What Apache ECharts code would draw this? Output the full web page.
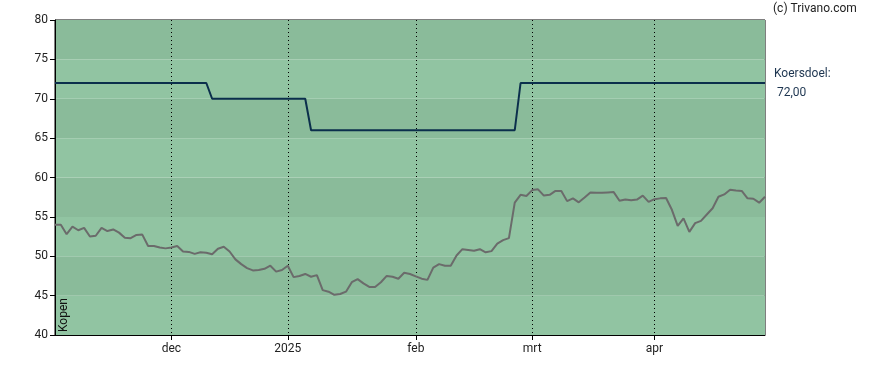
<!DOCTYPE html>
<html>
<head>
<meta charset="utf-8">
<script src="https://cdn.jsdelivr.net/npm/echarts@6/dist/echarts.min.js"></script>
<style>html,body{margin:0;padding:0;background:#fff;}#c{width:888px;height:370px;}</style>
</head>
<body>
<div id="c"></div>
<script>
var dates = [
'2024-11-04','2024-11-05','2024-11-06','2024-11-07','2024-11-08','2024-11-11','2024-11-12','2024-11-13','2024-11-14','2024-11-15',
'2024-11-18','2024-11-19','2024-11-20','2024-11-21','2024-11-22','2024-11-25','2024-11-26','2024-11-27','2024-11-28','2024-11-29',
'2024-12-02','2024-12-03','2024-12-04','2024-12-05','2024-12-06','2024-12-09','2024-12-10','2024-12-11','2024-12-12','2024-12-13',
'2024-12-16','2024-12-17','2024-12-18','2024-12-19','2024-12-20','2024-12-23','2024-12-24','2024-12-27','2024-12-30','2024-12-31',
'2025-01-02','2025-01-03','2025-01-06','2025-01-07','2025-01-08','2025-01-09','2025-01-10','2025-01-13','2025-01-14','2025-01-15',
'2025-01-16','2025-01-17','2025-01-20','2025-01-21','2025-01-22','2025-01-23','2025-01-24','2025-01-27','2025-01-28','2025-01-29',
'2025-01-30','2025-01-31',
'2025-02-03','2025-02-04','2025-02-05','2025-02-06','2025-02-07','2025-02-10','2025-02-11','2025-02-12','2025-02-13','2025-02-14',
'2025-02-17','2025-02-18','2025-02-19','2025-02-20','2025-02-21','2025-02-24','2025-02-25','2025-02-26','2025-02-27','2025-02-28',
'2025-03-03','2025-03-04','2025-03-05','2025-03-06','2025-03-07','2025-03-10','2025-03-11','2025-03-12','2025-03-13','2025-03-14',
'2025-03-17','2025-03-18','2025-03-19','2025-03-20','2025-03-21','2025-03-24','2025-03-25','2025-03-26','2025-03-27','2025-03-28',
'2025-03-31',
'2025-04-01','2025-04-02','2025-04-03','2025-04-04','2025-04-07','2025-04-08','2025-04-09','2025-04-10','2025-04-11','2025-04-14',
'2025-04-15','2025-04-16','2025-04-17','2025-04-22','2025-04-23','2025-04-24','2025-04-25','2025-04-28','2025-04-29','2025-04-30'
];
var prices = [
54.0, 54.0, 52.8, 53.75, 53.3, 53.6, 52.5, 52.6, 53.6, 53.2, 53.4, 53.0, 52.35, 52.3, 52.7, 52.75, 51.3, 51.3, 51.1, 51.0,
51.1, 51.3, 50.6, 50.55, 50.3, 50.5, 50.45, 50.25, 50.95, 51.2, 50.6, 49.6, 49.0, 48.5, 48.2, 48.25, 48.4, 48.8, 48.05, 48.25,
48.8, 47.35, 47.5, 47.75, 47.4, 47.6, 45.7, 45.5, 45.1, 45.2, 45.5, 46.7, 47.1, 46.55, 46.1, 46.1, 46.7, 47.5, 47.4, 47.15, 47.9, 47.75,
47.45, 47.15, 47.0, 48.55, 49.0, 48.8, 48.8, 50.1, 50.9, 50.8, 50.7, 50.9, 50.5, 50.65, 51.6, 52.05, 52.3, 56.8, 57.8, 57.65,
58.4, 58.5, 57.7, 57.8, 58.3, 58.3, 57.0, 57.35, 56.85, 57.45, 58.1, 58.05, 58.05, 58.1, 58.15, 57.05, 57.2, 57.1, 57.2, 57.7, 56.9,
57.25, 57.35, 57.4, 55.9, 53.85, 54.8, 53.1, 54.2, 54.5, 55.3, 56.1, 57.55, 57.85, 58.45, 58.35, 58.3, 57.35, 57.3, 56.8, 57.55
];
var targetDates = ['2024-11-04','2024-12-10','2024-12-11','2025-01-07','2025-01-08','2025-02-26','2025-02-27','2025-04-30'];
var targetValues = [72, 72, 70, 70, 66, 66, 72, 72];
var tickDates = ['2024-12-02','2025-01-02','2025-02-03','2025-03-03','2025-04-01'];
var tickLabels = ['dec','2025','feb','mrt','apr'];
var yTicks = [40, 45, 50, 55, 60, 65, 70, 75, 80];

var targetData = targetDates.map(function(d, i){ return [d, targetValues[i]]; });
function isTick(idx, val){ return tickDates.indexOf(val) >= 0; }

var chart = echarts.init(document.getElementById('c'), null, {renderer:'canvas'});
var FONT = 'Roboto, "Liberation Sans", sans-serif';
chart.setOption({
  animation: false,
  grid: {left: 55, top: 20, right: 123, bottom: 35, show: true, borderColor: '#000', borderWidth: 1, backgroundColor: 'transparent'},
  xAxis: {
    type: 'category', data: dates, boundaryGap: false,
    axisLine: {show: true, lineStyle: {color: '#000', width: 1}},
    axisTick: {show: true, interval: isTick, length: 5, lineStyle: {color: '#000'}},
    axisLabel: {interval: isTick, margin: 8, color: '#222', fontSize: 12, fontFamily: FONT,
      formatter: function(v){ var k = tickDates.indexOf(v); return k >= 0 ? tickLabels[k] : ''; }},
    splitLine: {show: true, interval: isTick, lineStyle: {color: '#000', type: [1, 3], width: 1}}
  },
  yAxis: {
    type: 'value', min: yTicks[0], max: yTicks[yTicks.length-1], interval: 5,
    axisLine: {show: true, lineStyle: {color: '#000', width: 1}},
    axisTick: {show: true, length: 5, lineStyle: {color: '#000'}},
    axisLabel: {margin: 7, color: '#222', fontSize: 12, fontFamily: FONT},
    splitLine: {show: false},
    splitArea: {show: true, areaStyle: {color: ['#91c4a2', '#8abb9a']}}
  },
  series: [
    {type: 'line', data: targetData, symbol: 'none', lineStyle: {color: '#0b2f4c', width: 2}, z: 3},
    {type: 'line', data: prices, symbol: 'none', lineStyle: {color: '#6b6b6b', width: 2}, z: 4}
  ],
  graphic: [
    {type: 'text', left: 773, top: 3, style: {text: '(c) Trivano.com', fill: '#222', font: '12px ' + FONT}},
    {type: 'text', left: 774, top: 68, style: {text: 'Koersdoel:', fill: '#1d3550', font: '12px ' + FONT}},
    {type: 'text', left: 777, top: 87, style: {text: '72,00', fill: '#1d3550', font: '12px ' + FONT}},
    {type: 'text', x: 64, y: 332, rotation: Math.PI/2, z: 10, style: {text: 'Kopen', fill: '#111', font: '12px ' + FONT, textAlign: 'left', textVerticalAlign: 'middle'}}
  ]
});
</script>
</body>
</html>
